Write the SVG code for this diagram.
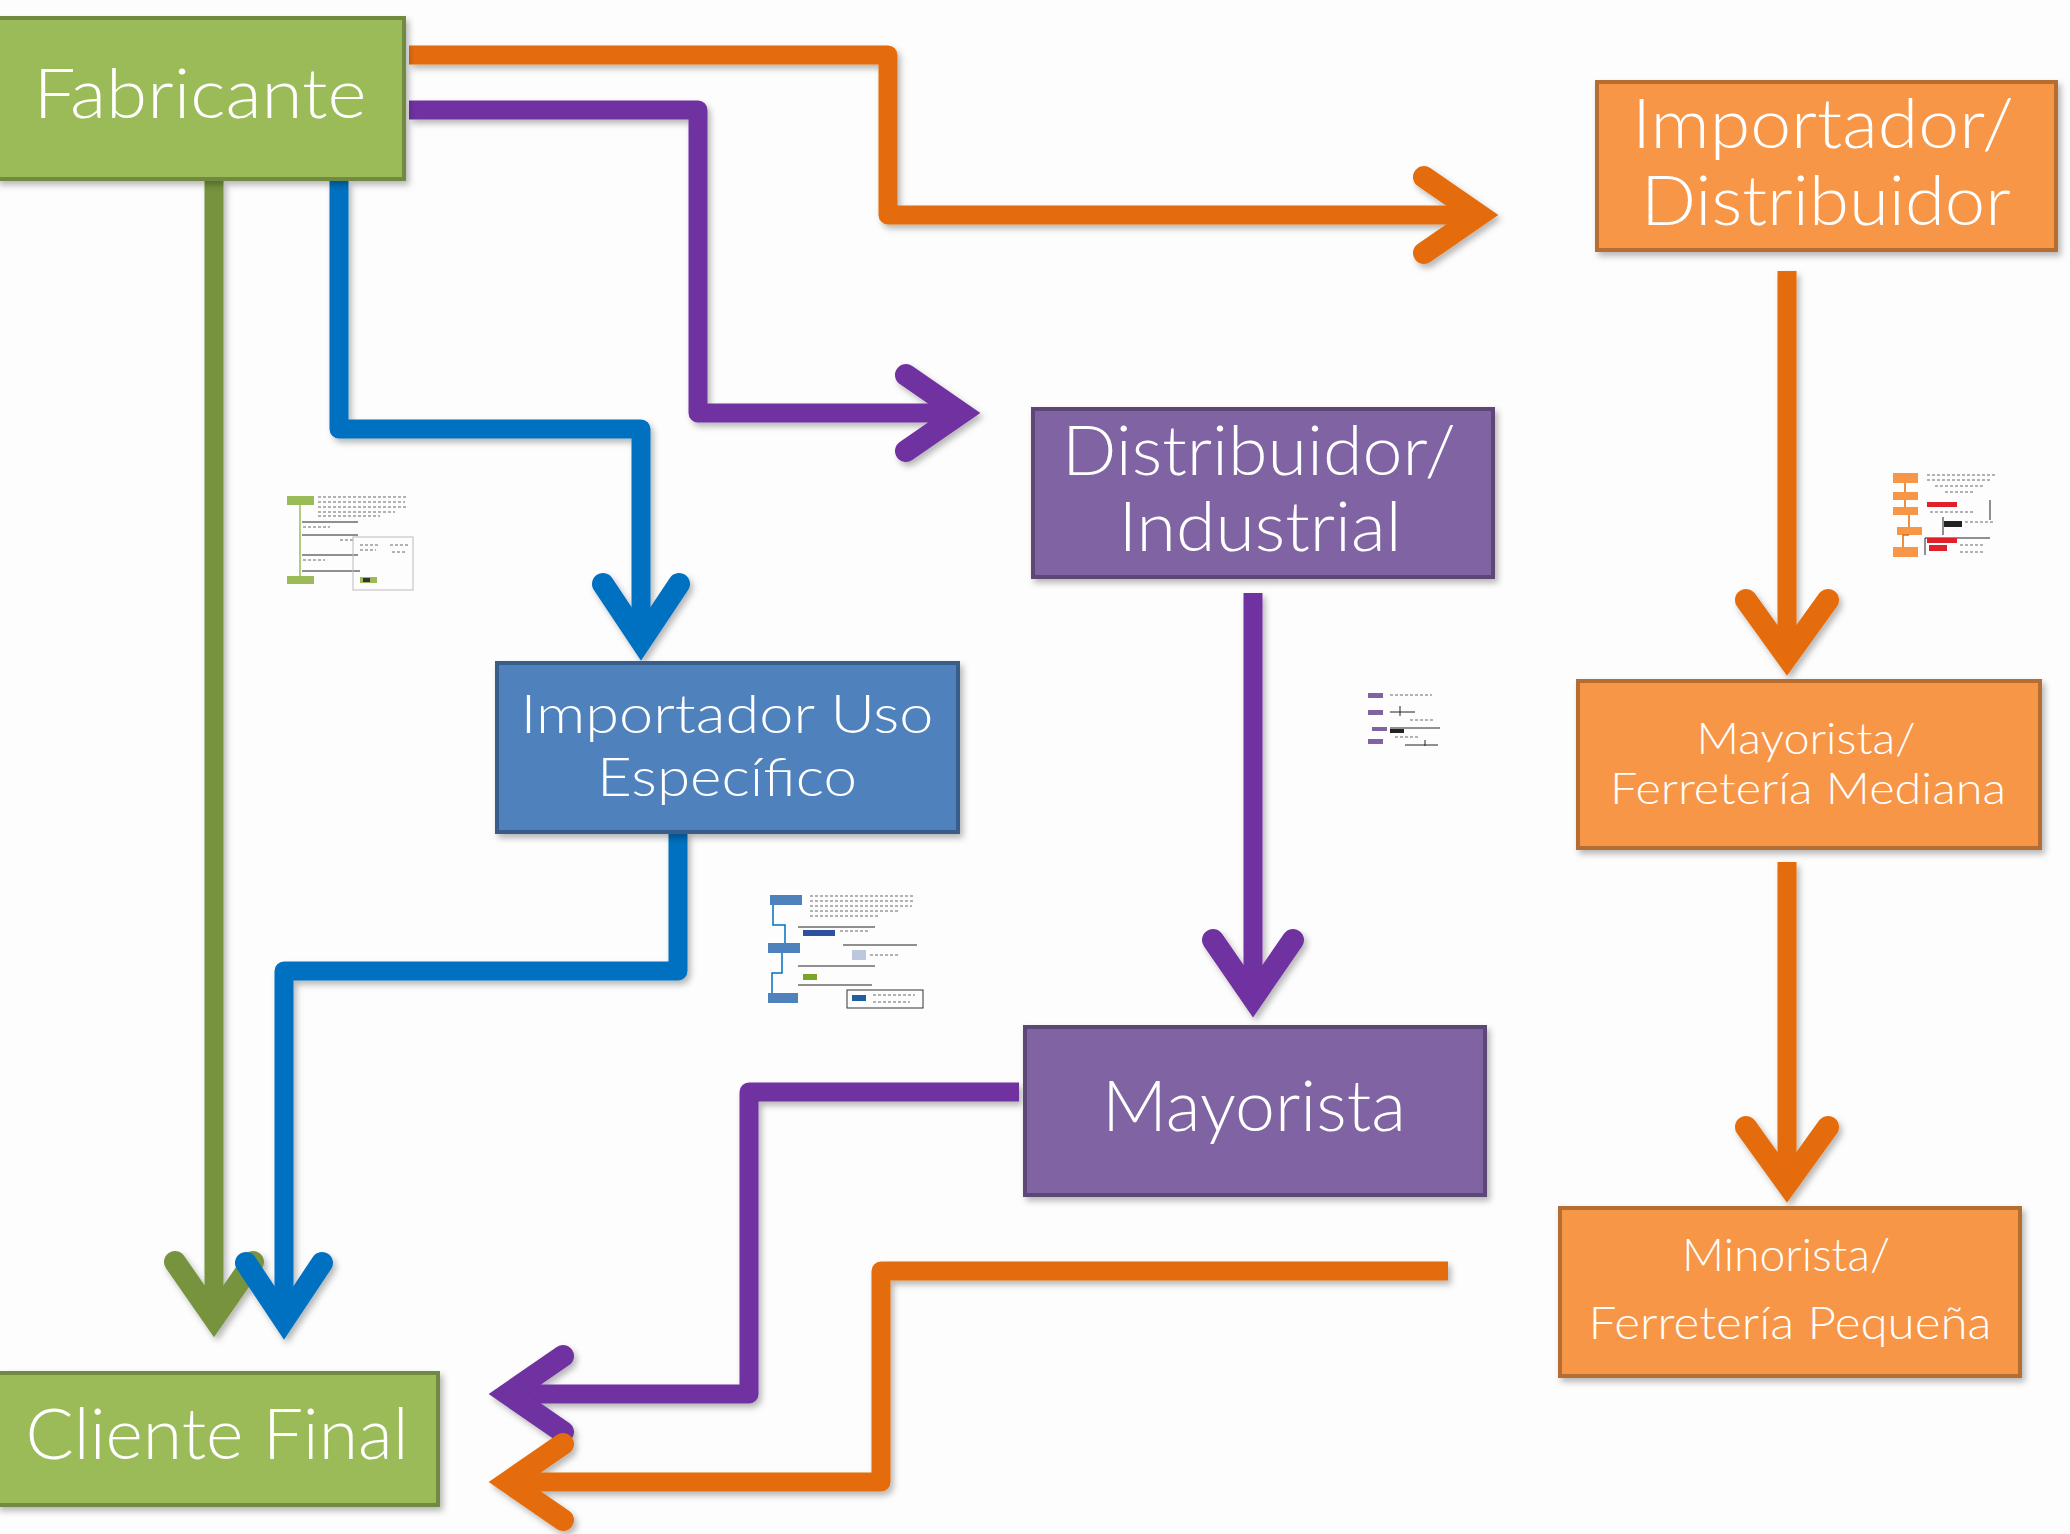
<svg xmlns="http://www.w3.org/2000/svg" width="2070" height="1534" viewBox="0 0 2070 1534">
<defs>
<filter id="sh" x="-10%" y="-10%" width="130%" height="130%">
<feDropShadow dx="3" dy="4" stdDeviation="3" flood-color="#000" flood-opacity="0.28"/>
</filter>
<style>
.box{stroke-width:4;filter:url(#sh)}
.g{fill:#9BBB59;stroke:#71893F}
.b{fill:#4F81BD;stroke:#385D8A}
.p{fill:#8064A2;stroke:#5C4776}
.o{fill:#F79646;stroke:#B66D31}
.t{fill:#fff;font-family:Lato,"Open Sans","Noto Sans",sans-serif;font-weight:300;text-anchor:middle}
.ln{fill:none;stroke-width:19;stroke-linejoin:round;stroke-linecap:butt}
.hd{fill:none;stroke-width:22;stroke-linejoin:miter;stroke-miterlimit:10;stroke-linecap:round}
.cO{stroke:#E46C0A}
.cP{stroke:#7030A0}
.cB{stroke:#0070C0}
.cG{stroke:#77933C}
.th{fill:none;stroke:#222;stroke-width:1}
.tx{fill:none;stroke:#999;stroke-width:1.5;stroke-dasharray:3 2}
</style>
</defs>
<rect width="2070" height="1534" fill="#FDFDFD"/>

<g id="connectors" filter="url(#sh)">
<path class="ln cG" d="M214,181 V1318"/>
<path class="hd cG" d="M175,1262 L214,1318 L253,1262"/>
<path class="ln cO" d="M409,55 H888 V215 H1478"/>
<path class="hd cO" d="M1424,177 L1479,215 L1424,253"/>
<path class="ln cP" d="M409,110 H698 V413 H960"/>
<path class="hd cP" d="M906,375 L961,413 L906,451"/>
<path class="ln cB" d="M339,181 V429 H641 V641"/>
<path class="hd cB" d="M603,584 L641,641 L679,584"/>
<path class="ln cB" d="M678,832 V971 H284 V1320"/>
<path class="hd cB" d="M246,1263 L284,1320 L322,1263"/>
<path class="ln cP" d="M1253,593 V998"/>
<path class="hd cP" d="M1213,940 L1253,998 L1293,940"/>
<path class="ln cO" d="M1787,271 V657"/>
<path class="hd cO" d="M1746,600 L1787,657 L1828,600"/>
<path class="ln cO" d="M1787,862 V1184"/>
<path class="hd cO" d="M1746,1127 L1787,1184 L1828,1127"/>
<path class="ln cP" d="M1019,1092 H749 V1394 H508"/>
<path class="hd cP" d="M563,1356 L508,1394 L563,1432"/>
<path class="ln cO" d="M1448,1271 H881 V1482 H508"/>
<path class="hd cO" d="M563,1444 L508,1482 L563,1520"/>
</g>

<g id="fabricante">
<rect class="box g" x="-2" y="18" width="406" height="161"/>
<text class="t" x="200" y="118" font-size="68" textLength="333" lengthAdjust="spacingAndGlyphs">Fabricante</text>
</g>

<g id="importador-distribuidor">
<rect class="box o" x="1597" y="82" width="459" height="168"/>
<text class="t" font-size="68"><tspan x="1823" y="148" textLength="382" lengthAdjust="spacingAndGlyphs">Importador/</tspan><tspan x="1826" y="225" textLength="370" lengthAdjust="spacingAndGlyphs">Distribuidor</tspan></text>
</g>

<g id="distribuidor-industrial">
<rect class="box p" x="1033" y="409" width="460" height="168"/>
<text class="t" font-size="68"><tspan x="1259" y="475" textLength="394" lengthAdjust="spacingAndGlyphs">Distribuidor/</tspan><tspan x="1260" y="551" textLength="283" lengthAdjust="spacingAndGlyphs">Industrial</tspan></text>
</g>

<g id="importador-uso">
<rect class="box b" x="497" y="663" width="461" height="169"/>
<text class="t" font-size="53"><tspan x="727" y="733" textLength="413" lengthAdjust="spacingAndGlyphs">Importador Uso</tspan><tspan x="727" y="796" textLength="260" lengthAdjust="spacingAndGlyphs">Específico</tspan></text>
</g>

<g id="mayorista-mediana">
<rect class="box o" x="1578" y="681" width="462" height="167"/>
<text class="t" font-size="43"><tspan x="1806" y="754" textLength="219" lengthAdjust="spacingAndGlyphs">Mayorista/</tspan><tspan x="1808" y="804" textLength="396" lengthAdjust="spacingAndGlyphs">Ferretería Mediana</tspan></text>
</g>

<g id="mayorista">
<rect class="box p" x="1025" y="1027" width="460" height="168"/>
<text class="t" x="1254" y="1131" font-size="70" textLength="304" lengthAdjust="spacingAndGlyphs">Mayorista</text>
</g>

<g id="minorista">
<rect class="box o" x="1560" y="1208" width="460" height="168"/>
<text class="t" font-size="46"><tspan x="1786" y="1271" textLength="208" lengthAdjust="spacingAndGlyphs">Minorista/</tspan><tspan x="1790" y="1339" textLength="403" lengthAdjust="spacingAndGlyphs">Ferretería Pequeña</tspan></text>
</g>

<g id="cliente-final">
<rect class="box g" x="-2" y="1373" width="440" height="132"/>
<text class="t" x="217" y="1459" font-size="70" textLength="383" lengthAdjust="spacingAndGlyphs">Cliente Final</text>
</g>

<g id="thumb-green">
<rect x="287" y="496" width="27" height="9" fill="#9BBB59"/>
<rect x="287" y="576" width="27" height="8" fill="#9BBB59"/>
<path d="M300,505 V576" stroke="#9BBB59" stroke-width="1.5"/>
<path class="tx" d="M318,497 H408 M318,502 H405 M318,507 H408 M318,512 H395 M318,516 H380"/>
<path class="th" d="M302,522 H358 M302,535 H358 M302,555 H358 M302,571 H360"/>
<path class="tx" d="M303,527 H330 M303,560 H325 M340,540 H355"/>
<rect x="353" y="537" width="60" height="53" fill="none" stroke="#bbb" stroke-width="1"/>
<path class="tx" d="M360,545 H378 M360,550 H376 M390,545 H408 M392,552 H406"/>
<rect x="360" y="577" width="17" height="6" fill="#9BBB59"/>
<rect x="363" y="578" width="7" height="4" fill="#333"/>
</g>

<g id="thumb-blue">
<rect x="770" y="895" width="32" height="10" fill="#4F81BD"/>
<rect x="768" y="943" width="32" height="10" fill="#4F81BD"/>
<rect x="768" y="993" width="30" height="10" fill="#4F81BD"/>
<path d="M773,905 V925 H785 V943 M782,953 V973 H772 V993" fill="none" stroke="#0070C0" stroke-width="1.5"/>
<path class="tx" d="M810,896 H915 M810,901 H915 M810,906 H912 M810,911 H900 M810,916 H880"/>
<path class="th" d="M798,927 H875 M843,945 H917 M798,966 H875 M798,985 H872"/>
<rect x="803" y="930" width="32" height="6" fill="#2F4F9F"/>
<rect x="852" y="950" width="14" height="10" fill="#bcc8de"/>
<rect x="803" y="974" width="14" height="6" fill="#7aa628"/>
<rect x="847" y="990" width="76" height="18" fill="none" stroke="#333" stroke-width="1"/>
<rect x="852" y="995" width="14" height="6" fill="#1f5fa0"/>
<path class="tx" d="M873,995 H915 M873,1002 H910 M840,931 H870 M870,955 H900"/>
</g>

<g id="thumb-purple">
<rect x="1368" y="693" width="15" height="5" fill="#8064A2"/>
<rect x="1368" y="710" width="15" height="5" fill="#8064A2"/>
<rect x="1372" y="727" width="15" height="4" fill="#8064A2"/>
<rect x="1368" y="739" width="15" height="5" fill="#8064A2"/>
<path class="tx" d="M1390,695 H1432"/>
<path class="th" d="M1390,712 H1415 M1390,728 H1440 M1405,745 H1438 M1400,706 V716 M1425,740 V746"/>
<rect x="1390" y="729" width="14" height="4" fill="#222"/>
<path class="tx" d="M1410,720 H1435 M1395,737 H1420"/>
</g>

<g id="thumb-orange">
<rect x="1893" y="473" width="25" height="10" fill="#F79646"/>
<rect x="1893" y="492" width="25" height="8" fill="#F79646"/>
<rect x="1893" y="507" width="25" height="8" fill="#F79646"/>
<rect x="1897" y="527" width="25" height="8" fill="#F79646"/>
<rect x="1893" y="547" width="25" height="10" fill="#F79646"/>
<path d="M1905,483 V492 M1905,500 V507 M1909,515 V527 M1909,535 H1903 V547" stroke="#E46C0A" stroke-width="1.5" fill="none"/>
<path class="tx" d="M1927,475 H1995 M1927,480 H1990 M1935,486 H1985 M1945,492 H1975"/>
<rect x="1927" y="502" width="30" height="5" fill="#e0202a"/>
<path class="th" d="M1990,500 V520 M1943,517 V535 M1925,538 H1990 M1925,538 V555"/>
<rect x="1944" y="521" width="18" height="6" fill="#222"/>
<rect x="1927" y="538" width="30" height="5" fill="#e0202a"/>
<rect x="1929" y="545" width="18" height="6" fill="#e0202a"/>
<path class="tx" d="M1965,522 H1995 M1960,545 H1985 M1960,552 H1985 M1930,512 H1975"/>
</g>
</svg>
